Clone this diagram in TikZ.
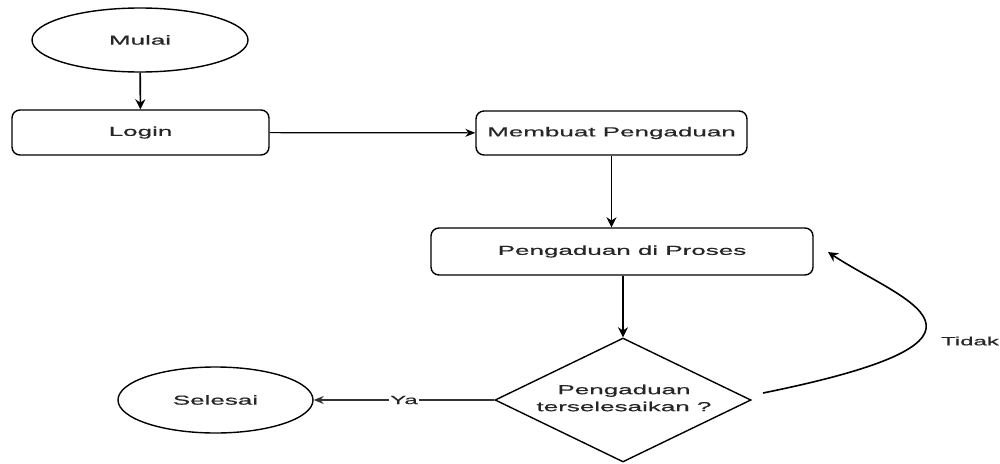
\documentclass[tikz,border=0pt]{standalone}
\usepackage{fontspec}
\newfontfamily\df[FakeStretch=2.0,FakeBold=0.6]{Liberation Sans}
\usetikzlibrary{shapes.geometric,arrows.meta}
\begin{document}
\begin{tikzpicture}[x=1pt,y=-1pt,
  every node/.style={font=\df\fontsize{13}{17}\selectfont, text=black!85},
  procbox/.style={draw, line width=1.4pt, rounded corners=8pt, inner sep=0pt},
  termell/.style={draw, ellipse, line width=1.4pt, inner sep=0pt},
  flow/.style={line width=1.6pt, -{Stealth[length=10pt,width=10pt]}},
  thinflow/.style={line width=1.2pt, -{Stealth[length=10pt,width=8pt]}},
  lbl/.style={font=\df\fontsize{12}{14}\selectfont, fill=white, inner sep=1pt}]
\useasboundingbox (0,0) rectangle (1000,463);
\fill[white] (0,0) rectangle (1000,463);

\node[termell, minimum width=216pt, minimum height=64pt] (mulai) at (140,40) {Mulai};
\node[procbox, minimum width=257pt, minimum height=45pt] (login) at (140.5,132.5) {Login};
\node[procbox, minimum width=271pt, minimum height=44pt] (buat) at (611.5,133) {Membuat Pengaduan};
\node[procbox, minimum width=382pt, minimum height=47pt] (proses) at (622,251.5) {Pengaduan di Proses};
\node[draw, diamond, line width=1.4pt, minimum width=256pt, minimum height=124pt, inner sep=0pt] (cek) at (623,400) {};
\node[align=center] (cektxt) at (624,398) {Pengaduan\\terselesaikan ?};
\node[termell, minimum width=195pt, minimum height=66pt] (selesai) at (215.5,400) {Selesai};

\draw[flow] (mulai) -- (login);
\draw[thinflow] (login) -- (buat);
\draw[flow] (buat.south) -- (buat.south |- proses.north);
\draw[flow] (cek.north |- proses.south) -- (cek.north);
\draw[thinflow, black!80] (cek) -- node[lbl] {Ya} (selesai);

\coordinate (t1) at (763,393);
\coordinate (t2) at (828,252);
\draw[flow] (t1) .. controls (1035,338) and (900,300) .. (t2);
\node[lbl] (tidak) at (970,341) {Tidak};
\end{tikzpicture}
\end{document}
